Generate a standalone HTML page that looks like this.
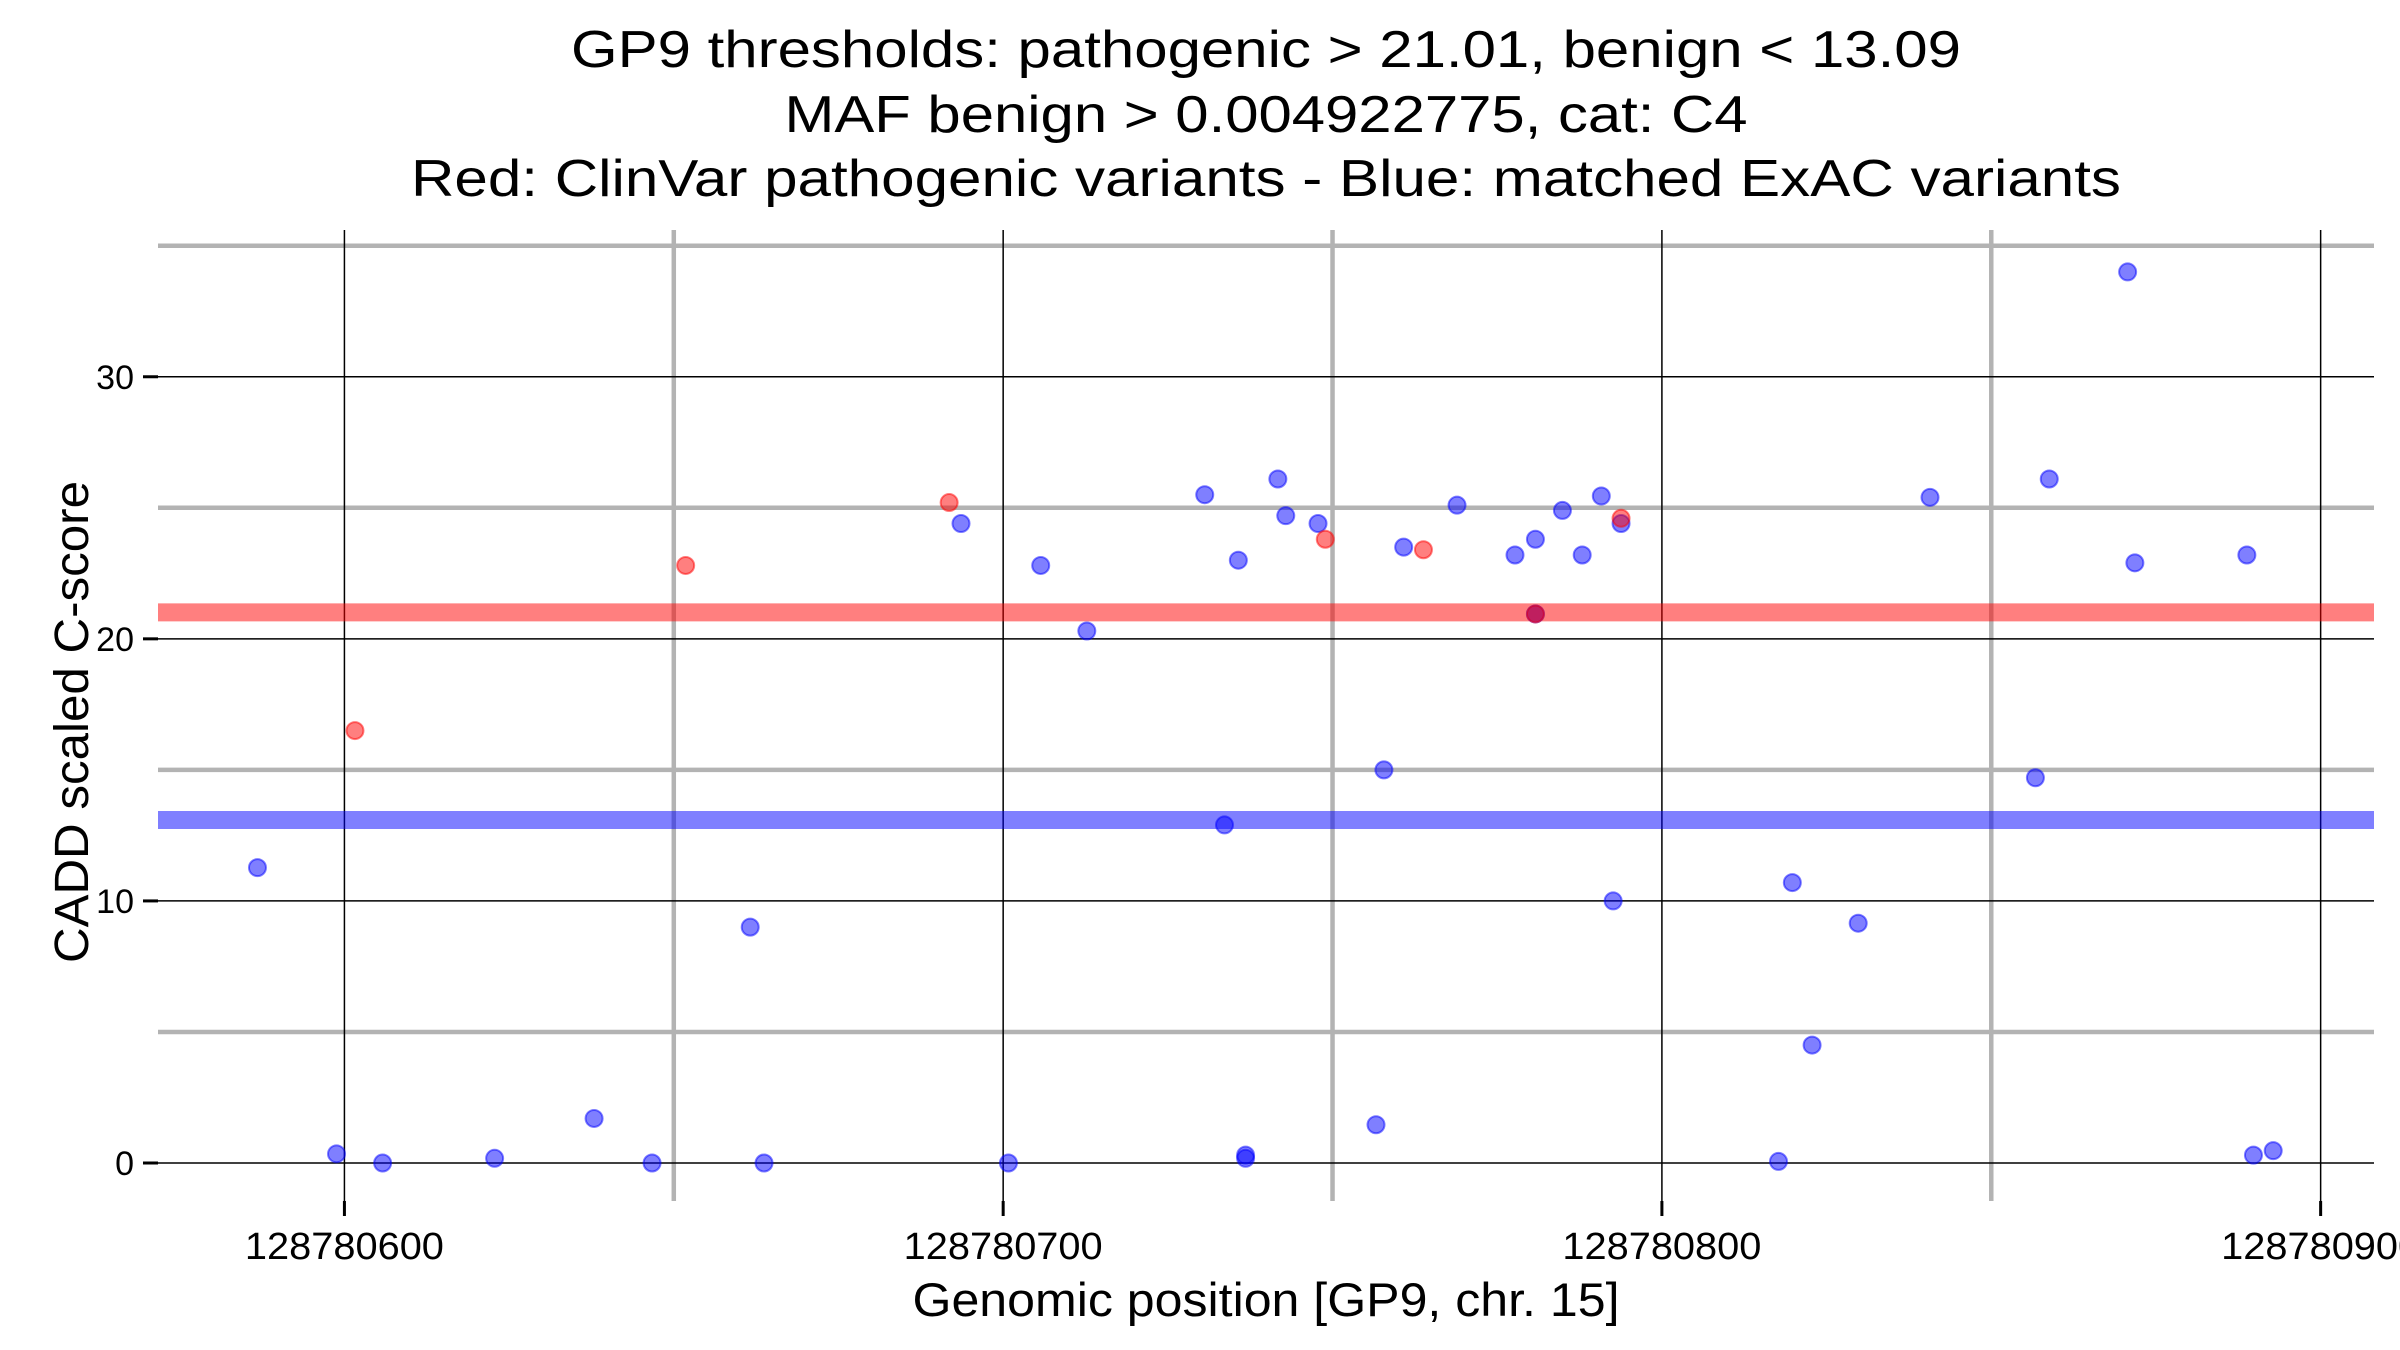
<!DOCTYPE html>
<html><head><meta charset="utf-8"><style>
html,body{margin:0;padding:0;background:#fff}
svg{display:block;font-family:"Liberation Sans",Arial,sans-serif}
</style></head><body>
<svg id="chart" width="2400" height="1350" viewBox="0 0 2400 1350">
<g id="grid"></g>
<g id="thr"></g>
<g id="pts"></g>
<g id="axes"></g>
<g font-size="52" text-anchor="middle" fill="#000">
<text x="1266" y="67" textLength="1390" lengthAdjust="spacingAndGlyphs">GP9 thresholds: pathogenic &gt; 21.01, benign &lt; 13.09</text>
<text x="1266" y="132" textLength="963" lengthAdjust="spacingAndGlyphs">MAF benign &gt; 0.004922775, cat: C4</text>
<text x="1266" y="196" textLength="1710" lengthAdjust="spacingAndGlyphs">Red: ClinVar pathogenic variants - Blue: matched ExAC variants</text>
</g>
<text x="1266" y="1316" font-size="47" text-anchor="middle" textLength="707" lengthAdjust="spacingAndGlyphs">Genomic position [GP9, chr. 15]</text>
<text x="0" y="0" font-size="48" text-anchor="middle" textLength="482" lengthAdjust="spacingAndGlyphs" transform="translate(88,722) rotate(-90)">CADD scaled C-score</text>
</svg>
<script>
const xTicks=[600,700,800,900];
const xTickLabels=["128780600","128780700","128780800","128780900"];
const xMinor=[650,750,850];
const yTicks=[0,10,20,30];
const yTickLabels=["0","10","20","30"];
const yMinor=[5,15,25,35];
const thrPath=21.01, thrBenign=13.09;
const blueX=[586.8,598.8,605.8,622.8,637.9,646.7,661.6,663.7,693.6,700.8,705.7,712.7,730.6,733.6,735.7,736.8,736.8,741.7,742.9,747.8,756.6,757.8,760.8,768.9,777.7,780.8,780.8,784.9,787.9,790.8,792.6,793.8,817.7,819.8,822.8,829.8,840.7,856.7,858.8,870.7,871.8,888.8,889.8,892.8];
const blueY=[11.27,0.35,0,0.18,1.7,0,9.0,0,24.4,0,22.8,20.3,25.5,12.9,23.0,0.3,0.18,26.1,24.7,24.4,1.46,15.0,23.5,25.1,23.2,23.8,20.95,24.9,23.2,25.45,10.0,24.4,0.06,10.7,4.5,9.15,25.4,14.7,26.1,34.0,22.9,23.2,0.3,0.47];
const redX=[601.6,651.8,691.8,748.9,763.8,780.8,793.8];
const redY=[16.5,22.8,25.2,23.8,23.4,20.95,24.6];

const L=158,R=2374,T=230,B=1201;
const x0=571.7,x1=908.1,y0=-1.45,y1=35.6;
const sx=v=>L+(v-x0)/(x1-x0)*(R-L);
const sy=v=>B-(v-y0)/(y1-y0)*(B-T);
const NS="http://www.w3.org/2000/svg";
function mk(tag,parent,attrs){const e=document.createElementNS(NS,tag);for(const k in attrs)e.setAttribute(k,attrs[k]);parent.appendChild(e);return e;}
const grid=document.getElementById('grid'),thr=document.getElementById('thr'),pts=document.getElementById('pts'),axes=document.getElementById('axes');
yMinor.forEach(v=>{const e=mk('line',grid,{x1:L,x2:R,y1:sy(v),y2:sy(v),stroke:'#b3b3b3','stroke-width':4.5});

});
xMinor.forEach(v=>{const e=mk('line',grid,{x1:sx(v),x2:sx(v),y1:T,y2:B,stroke:'#b3b3b3','stroke-width':4.5});

});
yTicks.forEach((v,i)=>{const e=mk('line',grid,{x1:L,x2:R,y1:sy(v),y2:sy(v),stroke:'#000','stroke-width':1.5});


const t=mk('line',axes,{x1:L-15,x2:L,y1:sy(v),y2:sy(v),stroke:'#000','stroke-width':3});


const lb=mk('text',axes,{x:L-24,y:sy(v)+12,'font-size':34,'text-anchor':'end'});lb.textContent=yTickLabels[i];

});
xTicks.forEach((v,i)=>{const e=mk('line',grid,{x1:sx(v),x2:sx(v),y1:T,y2:B,stroke:'#000','stroke-width':1.5});


const t=mk('line',axes,{x1:sx(v),x2:sx(v),y1:B,y2:B+15,stroke:'#000','stroke-width':3});


const lb=mk('text',axes,{x:sx(v),y:1259,'font-size':38,'text-anchor':'middle',textLength:199,lengthAdjust:'spacingAndGlyphs'});lb.textContent=xTickLabels[i];

});
const tr=mk('line',thr,{x1:L,x2:R,y1:sy(thrPath),y2:sy(thrPath),stroke:'#ff0000','stroke-opacity':0.5,'stroke-width':18});


const tb=mk('line',thr,{x1:L,x2:R,y1:sy(thrBenign),y2:sy(thrBenign),stroke:'#0000ff','stroke-opacity':0.5,'stroke-width':18});


blueX.forEach((v,i)=>{const c=mk('circle',pts,{cx:sx(v),cy:sy(blueY[i]),r:8.5,fill:'#0000ff','fill-opacity':0.5,stroke:'#0000ff','stroke-opacity':0.5,'stroke-width':2});

});
redX.forEach((v,i)=>{const c=mk('circle',pts,{cx:sx(v),cy:sy(redY[i]),r:8.5,fill:'#ff0000','fill-opacity':0.5,stroke:'#ff0000','stroke-opacity':0.5,'stroke-width':2});

});
</script>
</body></html>
